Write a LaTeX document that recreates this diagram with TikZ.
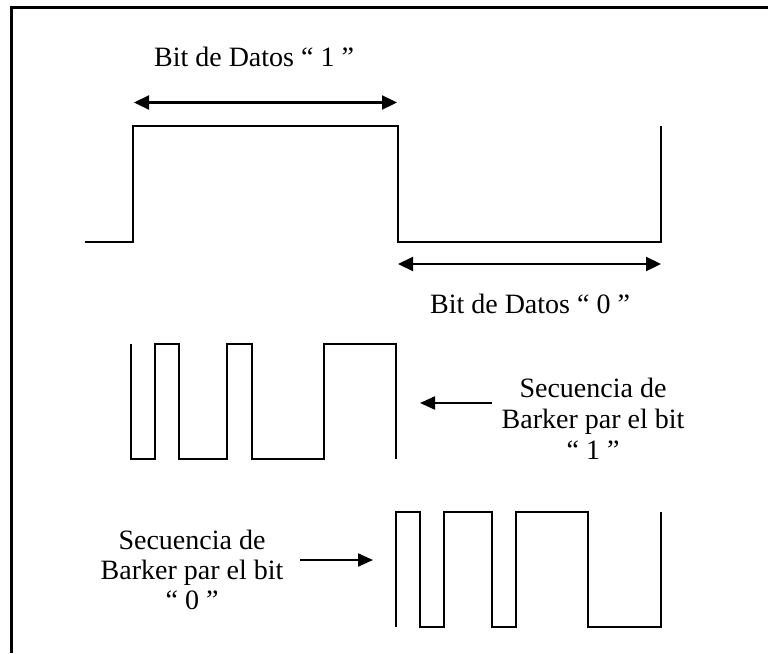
\documentclass[tikz,border=0pt]{standalone}
\usepackage{fontspec}
\setmainfont{Liberation Serif}
\usetikzlibrary{arrows.meta}
\begin{document}
\begin{tikzpicture}[x=1pt,y=-1pt,
  wave/.style={line width=2pt},
  dimarrow/.style={line width=2.2pt,{Triangle[length=15pt,width=14pt]}-{Triangle[length=15pt,width=14pt]}},
  ptr/.style={line width=2.2pt,-{Triangle[length=15pt,width=13pt]}},
  lbl/.style={font=\fontsize{28}{34}\selectfont,inner sep=0pt,anchor=base}]
\useasboundingbox (0,0) rectangle (768,653);
\draw[line width=2.5pt] (11.5,653) -- (11.5,7.5) -- (768,7.5);
% data waveform
\draw[wave] (85,241.5) -- (133,241.5) -- (133,125.5) -- (397.5,125.5) -- (397.5,241.5) -- (661,241.5) -- (661,125.5);
% bit arrows
\coordinate (a1l) at (134,102.5);
\coordinate (a1r) at (397,102.5);
\coordinate (a0l) at (398,264);
\coordinate (a0r) at (661,264);
\draw[dimarrow] (a1l) -- (a1r);
\draw[dimarrow] (a0l) -- (a0r);
\node[lbl] (t1) at (254,66) {Bit de Datos “ 1 ”};
\node[lbl] (t0) at (530,313) {Bit de Datos “ 0 ”};
% Barker for 1
\draw[wave] (131,344) -- (131,459) -- (155.1,459) -- (155.1,344) -- (179.2,344) -- (179.2,459)
  -- (227.4,459) -- (227.4,344) -- (251.5,344) -- (251.5,459) -- (323.7,459) -- (323.7,344)
  -- (396,344) -- (396,459);
% Barker for 0
\draw[wave] (395.5,627) -- (395.5,512) -- (419.6,512) -- (419.6,627) -- (443.7,627) -- (443.7,512)
  -- (491.9,512) -- (491.9,627) -- (516,627) -- (516,512) -- (588.3,512) -- (588.3,627)
  -- (660.5,627) -- (660.5,512);
% labels
\node[lbl] (s1a) at (593,397) {Secuencia de};
\node[lbl] (s1b) at (593,428) {Barker par el bit};
\node[lbl] (s1c) at (593,459) {“ 1 ”};
\node[lbl] (s0a) at (192,549) {Secuencia de};
\node[lbl] (s0b) at (192,579) {Barker par el bit};
\node[lbl] (s0c) at (192,609) {“ 0 ”};
\coordinate (p1s) at (492,403);
\coordinate (p1e) at (420,403);
\coordinate (p0s) at (300,560);
\coordinate (p0e) at (373,560);
\draw[ptr] (p1s) -- (p1e);
\draw[ptr] (p0s) -- (p0e);
\end{tikzpicture}
\end{document}
